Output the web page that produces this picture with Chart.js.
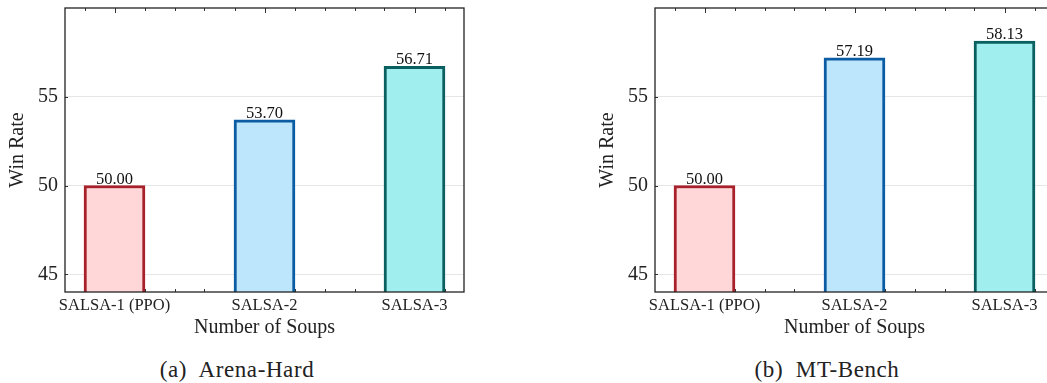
<!DOCTYPE html>
<html>
<head>
<meta charset="utf-8">
<script src="https://cdn.jsdelivr.net/npm/chart.js@4/dist/chart.umd.min.js"></script>
<style>
  html, body { margin: 0; padding: 0; background: #fff; }
  body { width: 1047px; height: 383px; overflow: hidden; position: relative; }
  .panel { position: absolute; top: 0; width: 520px; height: 383px; }
  .caption {
    position: absolute; top: 357px; left: 0; width: 474px; text-align: center;
    font-family: "Liberation Serif", serif; font-size: 23px; letter-spacing: 0.6px; color: #222;
  }
</style>
</head>
<body>
<div class="panel" style="left:0">
  <canvas id="arena" width="520" height="340"></canvas>
  <div class="caption">(a)&nbsp; Arena-Hard</div>
</div>
<div class="panel" style="left:590px">
  <canvas id="mtbench" width="520" height="340"></canvas>
  <div class="caption">(b)&nbsp; MT-Bench</div>
</div>
<script>
const categories = ["SALSA-1 (PPO)", "SALSA-2", "SALSA-3"];
const arenaHard = [50.00, 53.70, 56.71];
const mtBench = [50.00, 57.19, 58.13];
const yTicks = [45, 50, 55];
const fillColors = ["#ffd7d9", "#bde5fb", "#a0eeee"];
const edgeColors = ["#a8202a", "#0b5ca3", "#0a6060"];

const serif = "Liberation Serif";
const textColor = "#222";

// frame, inward ticks and value labels
const framePlugin = {
  id: "frame",
  beforeDatasetsDraw(chart) {
    const { ctx, chartArea: a, scales } = chart;
    ctx.save();
    ctx.strokeStyle = "#333";
    ctx.lineWidth = 1;
    scales.x.ticks.forEach(t => {
      const px = Math.round(scales.x.getPixelForValue(t.value)) + 0.5;
      const major = Math.abs(t.value - Math.round(t.value)) < 1e-6;
      const len = major ? 5 : 3;
      ctx.beginPath();
      ctx.moveTo(px, a.top); ctx.lineTo(px, a.top + len);
      ctx.moveTo(px, a.bottom); ctx.lineTo(px, a.bottom - len);
      ctx.stroke();
    });
    scales.y.ticks.forEach(t => {
      const py = Math.round(scales.y.getPixelForValue(t.value)) + 0.5;
      ctx.beginPath();
      ctx.moveTo(a.left, py); ctx.lineTo(a.left + 3, py);
      ctx.stroke();
    });
    ctx.restore();
  },
  afterDatasetsDraw(chart) {
    const { ctx, chartArea: a } = chart;
    ctx.save();
    ctx.strokeStyle = "#222";
    ctx.lineWidth = 1.3;
    ctx.strokeRect(a.left, a.top, a.right - a.left, a.bottom - a.top);

    ctx.fillStyle = "#111";
    ctx.font = "16.5px '" + serif + "'";
    ctx.textAlign = "center";
    ctx.textBaseline = "alphabetic";
    const meta = chart.getDatasetMeta(0);
    const values = chart.data.datasets[0].data;
    meta.data.forEach((bar, i) => {
      ctx.fillText(values[i].y.toFixed(2), bar.x, bar.y - 2);
    });
    ctx.restore();
  }
};

function makeChart(id, values) {
  return new Chart(document.getElementById(id), {
    type: "bar",
    data: {
      datasets: [{
        data: values.map((v, i) => ({ x: i, y: v })),
        backgroundColor: fillColors,
        borderColor: edgeColors,
        borderWidth: 3,
        borderSkipped: "start",
        barThickness: 61
      }]
    },
    options: {
      responsive: false,
      animation: false,
      layout: { padding: { top: 8, right: 56, bottom: 0, left: 0 } },
      plugins: { legend: { display: false }, tooltip: { enabled: false } },
      scales: {
        x: {
          type: "linear",
          offset: false,
          min: -0.33,
          max: 2.33,
          afterBuildTicks: scale => {
            const ticks = [];
            for (let k = -1; k <= 11; k++) ticks.push({ value: Math.round(k * 2) / 10 });
            scale.ticks = ticks;
          },
          afterFit: scale => {
            scale.height = 48;
            scale.paddingLeft = 0;
            scale.paddingRight = 0;
          },
          grid: { display: false, drawTicks: false, offset: false },
          border: { display: false },
          ticks: {
            autoSkip: false,
            maxRotation: 0,
            padding: 4,
            color: textColor,
            font: { family: serif, size: 16.5 },
            callback: v => {
              const r = Math.round(v);
              return Math.abs(v - r) < 1e-6 ? categories[r] : "";
            }
          },
          title: {
            display: true,
            text: "Number of Soups",
            color: textColor,
            font: { family: serif, size: 20 },
            padding: { top: 0, bottom: 0 }
          }
        },
        y: {
          min: 44,
          max: 60,
          afterBuildTicks: scale => {
            scale.ticks = yTicks.map(v => ({ value: v }));
          },
          afterFit: scale => {
            scale.width = 65;
            scale.paddingTop = 0;
            scale.paddingBottom = 0;
          },
          grid: { color: "#e6e6e6", lineWidth: 1, drawTicks: false },
          border: { display: false },
          ticks: {
            padding: 7,
            color: textColor,
            font: { family: serif, size: 20 }
          },
          title: {
            display: true,
            text: "Win Rate",
            color: textColor,
            font: { family: serif, size: 20 },
            padding: { top: 6, bottom: 0 }
          }
        }
      }
    },
    plugins: [framePlugin]
  });
}

makeChart("arena", arenaHard);
makeChart("mtbench", mtBench);
</script>
</body>
</html>
